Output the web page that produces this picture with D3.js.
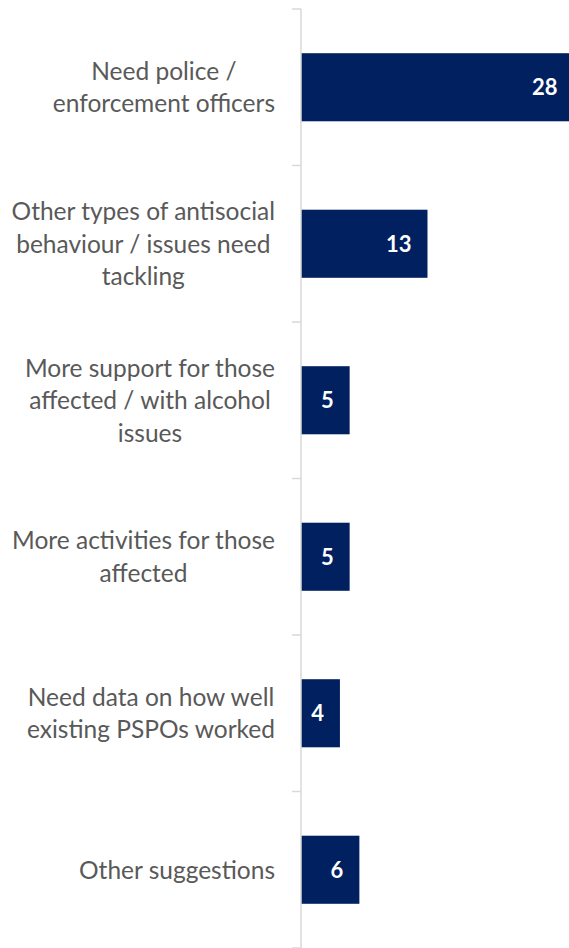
<!DOCTYPE html>
<html>
<head>
<meta charset="utf-8">
<script src="https://cdn.jsdelivr.net/npm/d3@7"></script>
<style>
  html, body { margin: 0; padding: 0; background: #fff; }
  svg { display: block; }
</style>
</head>
<body>
<svg id="chart" width="569" height="948"></svg>
<script>
const categories = [
  ["Need police /", "enforcement officers"],
  ["Other types of antisocial", "behaviour / issues need", "tackling"],
  ["More support for those", "affected / with alcohol", "issues"],
  ["More activities for those", "affected"],
  ["Need data on how well", "existing PSPOs worked"],
  ["Other suggestions"]
];
const values = [28, 13, 5, 5, 4, 6];
const xDomain = [0, 30];

(function () {
const axisX = 301, yTop = 9, yBottom = 948;
const labelRight = 275;
const fontFam = "Lato, 'Open Sans', sans-serif";
const labelSize = 24.5;
const lineH = 32.5;

const svg = d3.select("#chart");
const keys = categories.map((c, i) => i);

const y = d3.scaleBand().domain(keys).range([yTop, yBottom])
  .paddingInner(0.565).paddingOuter(0.2825);
const x = d3.scaleLinear().domain(xDomain).range([axisX, axisX + 9.73 * 30]);

// bars
svg.selectAll("rect.bar").data(values).join("rect")
  .attr("class", "bar")
  .attr("x", x(0))
  .attr("y", (d, i) => y(i))
  .attr("width", d => x(d) - x(0))
  .attr("height", y.bandwidth())
  .attr("fill", "#002060");

// value labels
svg.selectAll("text.val").data(values).join("text")
  .attr("class", "val")
  .attr("x", d => x(d) - 16)
  .attr("y", (d, i) => y(i) + y.bandwidth() / 2)
  .attr("dy", "0.36em")
  .attr("text-anchor", "end")
  .attr("font-family", fontFam)
  .attr("font-weight", "bold")
  .attr("font-size", 22)
  .attr("fill", "#ffffff")
  .text(d => d);

// axis line and ticks
const step = y.step();
const g = svg.append("g");
g.append("line")
  .attr("x1", axisX).attr("x2", axisX)
  .attr("y1", yTop).attr("y2", yBottom)
  .attr("stroke", "#d9d9d9").attr("stroke-width", 1.5);
const tickYs = d3.range(categories.length + 1).map(i => yTop + i * step);
g.selectAll("line.tick").data(tickYs).join("line")
  .attr("class", "tick")
  .attr("x1", axisX - 9).attr("x2", axisX)
  .attr("y1", d => d).attr("y2", d => d)
  .attr("stroke", "#d9d9d9").attr("stroke-width", 1.5);

// category labels: block right-aligned, lines centered
categories.forEach((lines, i) => {
  const cy = y(i) + y.bandwidth() / 2;
  const t = svg.append("text")
    .attr("font-family", fontFam)
    .attr("font-size", labelSize)
    .attr("fill", "#595959")
    .attr("text-anchor", "middle");
  const n = lines.length;
  const spans = lines.map((ln, j) =>
    t.append("tspan")
      .attr("y", cy + (j - (n - 1) / 2) * lineH)
      .attr("dy", "0.36em")
      .text(ln));
  const maxW = d3.max(spans, s => s.node().getComputedTextLength());
  spans.forEach(s => s.attr("x", labelRight - maxW / 2));
});
})();
</script>
</body>
</html>
